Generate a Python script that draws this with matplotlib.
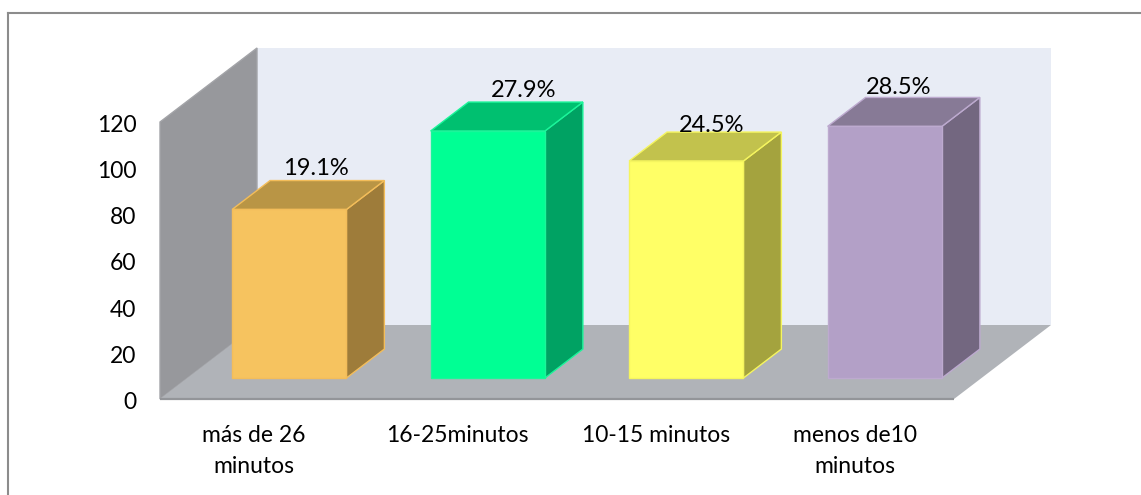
# --- IMPORTS ---
import matplotlib
matplotlib.use('Agg')
import matplotlib.pyplot as plt
from matplotlib.lines import Line2D
from matplotlib.transforms import ScaledTranslation

# --- DATA ---
categories = ['más de 26\nminutos', '16-25minutos', '10-15 minutos', 'menos de10\nminutos']
counts = [73, 107, 94, 109]
percent_labels = ['19.1%', '27.9%', '24.5%', '28.5%']
y_ticks = [0, 20, 40, 60, 80, 100, 120]

# --- STYLE ---
front_colors = ['#f6c35f', '#00ff94', '#ffff66', '#b3a0c7']
top_colors = ['#b99545', '#00c070', '#c2c24d', '#877a96']
side_colors = ['#9e7c3a', '#00a263', '#a4a33e', '#736780']
edge_colors = ['#f3bd5a', '#1cf59a', '#f5f55f', '#bdaacf']
label_shift = [0.135, 0.18, 0.13, 0.07]      # labels were moved by hand in the original
label_lift = [41, 40, 36, 39]                # px above the front top edge

W, H = 1141, 495
plt.rcParams['font.family'] = ['Lato', 'DejaVu Sans']

fig = plt.figure(figsize=(W / 100, H / 100), dpi=100, facecolor='white')
ax = fig.add_axes([160 / W, 1 - 399 / H, 794 / W, 277 / H])
ax.set_xlim(-0.5, 3.5)
ax.set_ylim(0, 120)
ax.patch.set_visible(False)
for s in ax.spines.values():
    s.set_visible(False)

# oblique projection of the chart box
depth_x = 97 / 794 * 4      # category units for the full floor depth
depth_y = 74 / 277 * 120    # value units for the full floor depth
px_per_unit = 277 / 120


def proj(cat, value, depth):
    return cat + depth * depth_x, value + depth * depth_y


def face(points, **kw):
    xy = [proj(*p) for p in points]
    ax.fill([p[0] for p in xy], [p[1] for p in xy], clip_on=False, **kw)


# --- WALLS AND FLOOR ---
xl, xr = -0.5, 3.5
face([(xl, 0, 1), (xr, 0, 1), (xr, 120, 1), (xl, 120, 1)], color='#e8ecf5', lw=0, zorder=1)
face([(xl, 0, 0), (xl, 0, 1), (xl, 120, 1), (xl, 120, 0)], facecolor='#97989c', edgecolor='#a3a4a8', lw=1, zorder=2)
face([(xl, 0, 0), (xr, 0, 0), (xr, 0, 1), (xl, 0, 1)], color='#b0b3b8', lw=0, zorder=2)
ax.plot([xl, xr], [0, 0], color='#939599', lw=1.6, clip_on=False, zorder=3, solid_capstyle='butt')

# --- BARS ---
d0, d1 = 0.284, 0.675
half = 0.288
shift = 0.0125
for i, v in enumerate(counts):
    a, b = i + shift - half, i + shift + half
    ec = edge_colors[i]
    face([(a, 0, d0), (b, 0, d0), (b, v, d0), (a, v, d0)], facecolor=front_colors[i], edgecolor=ec, lw=1, zorder=6)
    face([(b, 0, d0), (b, 0, d1), (b, v, d1), (b, v, d0)], facecolor=side_colors[i], edgecolor=ec, lw=1, zorder=5)
    face([(a, v, d0), (b, v, d0), (b, v, d1), (a, v, d1)], facecolor=top_colors[i], edgecolor=ec, lw=1, zorder=5)
    lx, ly = proj(i + shift + label_shift[i], v + label_lift[i] / px_per_unit, d0)
    ax.text(lx, ly, percent_labels[i], ha='center', va='center', fontsize=17, color='black', zorder=7, clip_on=False)

# --- AXES TEXT ---
ax.set_yticks(y_ticks)
ax.set_xticks(range(len(categories)))
ax.set_xticklabels(categories, linespacing=1.55)
ax.tick_params(axis='y', length=0, pad=17, labelsize=16.5)
ax.tick_params(axis='x', length=0, pad=19, labelsize=16.5)

# small nudges: tick text sits a little lower, first category label a little left
for t in ax.get_yticklabels():
    t.set_transform(t.get_transform() + ScaledTranslation(0, -1.5 / 100, fig.dpi_scale_trans))
first = ax.get_xticklabels()[0]
first.set_transform(first.get_transform() + ScaledTranslation(-5 / 100, 0, fig.dpi_scale_trans))

# --- OUTER FRAME (only left and top show in the crop) ---
fig.add_artist(Line2D([8 / W, 8 / W], [0, 1 - 13 / H], color='#8c8c8c', lw=1.5))
fig.add_artist(Line2D([8 / W, 1], [1 - 13 / H, 1 - 13 / H], color='#8c8c8c', lw=1.5))

fig.savefig('out.png', dpi=100)
